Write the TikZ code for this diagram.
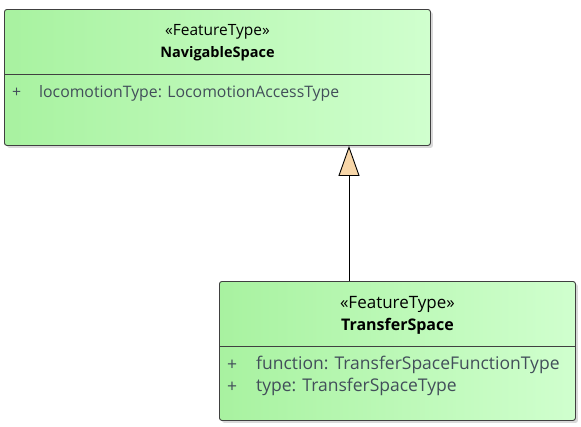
\documentclass[tikz,border=0pt]{standalone}
\usepackage{fontspec}
\setmainfont{Open Sans}
\usetikzlibrary{positioning, arrows.meta, shadows}
\definecolor{clsleft}{RGB}{168,242,160}
\definecolor{clsright}{RGB}{208,255,206}
\definecolor{attrtext}{RGB}{66,78,90}
\definecolor{genfill}{RGB}{247,214,168}
\tikzset{>=stealth,
  classbox/.style={draw=black!75, line width=0.9pt, rounded corners=2.5pt, left color=clsleft, right color=clsright,
    drop shadow={opacity=0.25, shadow xshift=2.5pt, shadow yshift=-2.5pt, fill=black!60},
    inner sep=0pt, anchor=north west},
  stereo/.style={inner sep=0pt, font=\fontsize{#1}{18}\selectfont},
  stereo/.default=15.5,
  cname/.style={inner sep=0pt, font=\fontsize{#1}{18}\selectfont\bfseries},
  cname/.default=14.5,
  attr/.style={inner sep=0pt, anchor=west, text=attrtext, font=\fontsize{#1}{18}\selectfont},
  attr/.default=15.8,
  gen/.style={line width=0.9pt, -{Triangle[width=21pt, length=30pt, fill=genfill]}}}

\begin{document}
\begin{tikzpicture}[x=1pt, y=-1pt]
    \useasboundingbox (0,0) rectangle (581,426);
    \node[classbox, minimum width=426pt, minimum height=136pt] (nav) at (4,9) {};
    \node[classbox, minimum width=356pt, minimum height=139pt] (transfer) at (219,281) {};
    \draw[black!75, line width=0.9pt] ([yshift=-65pt]nav.north west) -- ([yshift=-65pt]nav.north east);
    \draw[black!75, line width=0.9pt] ([yshift=-65pt]transfer.north west) -- ([yshift=-65pt]transfer.north east);
    \node[stereo] (navst) at ([yshift=-23pt]nav.north) {«FeatureType»};
    \node[cname] (navname) at ([yshift=-45pt]nav.north) {NavigableSpace};
    \node[attr] (navplus) at ([xshift=8pt, yshift=-84pt]nav.north west) {+};
    \node[attr] (navloco) at ([xshift=35pt, yshift=-84pt]nav.north west) {locomotionType: LocomotionAccessType};
    \node[stereo=17] (transferst) at ([yshift=-23pt]transfer.north) {«FeatureType»};
    \node[cname=16] (transfername) at ([yshift=-45pt]transfer.north) {TransferSpace};
    \node[attr=17.5] (transferplus1) at ([xshift=8pt, yshift=-84pt]transfer.north west) {+};
    \node[attr=17.5] (transferfunc) at ([xshift=37pt, yshift=-84pt]transfer.north west) {function: TransferSpaceFunctionType};
    \node[attr=17.5] (transferplus2) at ([xshift=8pt, yshift=-106pt]transfer.north west) {+};
    \node[attr=17.5] (transfertype) at ([xshift=37pt, yshift=-106pt]transfer.north west) {type: TransferSpaceType};
    \coordinate (genx) at (349,0);
    \draw[gen] (transfer.north -| genx) -- (nav.south -| genx);
\end{tikzpicture}
\end{document}
